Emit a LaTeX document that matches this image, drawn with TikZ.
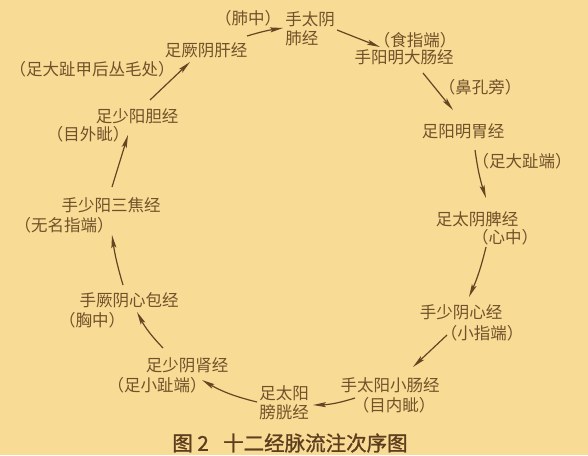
\documentclass[tikz,border=0pt]{standalone}
\usepackage{fontspec}
\setmainfont{Noto Sans CJK SC}
\newfontfamily\capfont[FakeBold=1.2]{Noto Sans CJK SC}
\usetikzlibrary{arrows.meta,calc}
\definecolor{bgc}{RGB}{248,219,149}
\definecolor{txt}{RGB}{112,82,42}
\definecolor{arr}{RGB}{100,70,35}
\definecolor{cap}{RGB}{92,62,30}
\tikzset{
  lbl/.style={inner sep=0pt, text=txt, font=\fontsize{16.5}{19}\selectfont},
  lbl2/.style={lbl, align=left},
  flow/.style={draw=arr, line width=1.2pt, -{Stealth[length=13pt,width=5pt,inset=2.5pt]}},
  captext/.style={inner sep=0pt, text=cap, font=\capfont\fontsize{20.5}{24}\selectfont}
}
\begin{document}
\begin{tikzpicture}[x=1pt,y=1pt]
\fill[bgc] (0,0) rectangle (588,-455);
\useasboundingbox (0,0) rectangle (588,-455);
% nodes
\node[lbl] (lungpt) at (248,-18) {（肺中）};
\node[lbl2] (lung) at (310,-28.5) {手太阴\\肺经};
\node[lbl] (lipt) at (415,-40) {（食指端）};
\node[lbl] (li) at (404,-57) {手阳明大肠经};
\node[lbl] (stpt) at (480,-87) {（鼻孔旁）};
\node[lbl] (st) at (463,-131) {足阳明胃经};
\node[lbl] (sppt) at (522,-161) {（足大趾端）};
\node[lbl] (sp) at (477,-219) {足太阴脾经};
\node[lbl] (htpt) at (505,-237) {（心中）};
\node[lbl] (ht) at (461,-312) {手少阴心经};
\node[lbl] (sipt) at (482,-333) {（小指端）};
\node[lbl] (si) at (390,-385) {手太阳小肠经};
\node[lbl] (blpt) at (394,-405) {（目内眦）};
\node[lbl2] (bl) at (284,-402.5) {足太阳\\膀胱经};
\node[lbl] (kipt) at (157,-385) {（足小趾端）};
\node[lbl] (ki) at (187,-365) {足少阴肾经};
\node[lbl] (pcpt) at (92,-320) {（胸中）};
\node[lbl] (pc) at (129,-300) {手厥阴心包经};
\node[lbl] (tept) at (64,-225) {（无名指端）};
\node[lbl] (te) at (111,-205) {手少阳三焦经};
\node[lbl] (gbpt) at (88,-134) {（目外眦）};
\node[lbl] (gb) at (137,-116) {足少阳胆经};
\node[lbl] (lrpt) at (92,-69) {（足大趾甲后丛毛处）};
\node[lbl] (lr) at (206,-50) {足厥阴肝经};
\node[captext] (caption) at (290,-443) {图~2\hspace{0.7em}十二经脉流注次序图};
% connectors
\draw[flow] ($(lr)+(41,14)$) to[bend left=4] ($(lung)+(-27,0.5)$);
\draw[flow] ($(lung)+(27,-1.5)$) -- ($(li)+(-24,10)$);
\draw[flow] ($(li)+(19,-16)$) -- ($(st)+(-10,21)$);
\draw[flow] ($(st)+(12,-19)$) to[bend right=5] ($(sp)+(9,21)$);
\draw[flow] ($(sp)+(9,-28)$) to[bend left=5] ($(ht)+(8,15)$);
\draw[flow] ($(ht)+(-14,-23)$) -- ($(si)+(23,18)$);
\draw[flow] ($(si)+(-35,-13)$) to[bend left=8] ($(bl)+(29,-2.5)$);
\draw[flow] ($(bl)+(-27,0.5)$) to[bend left=8] ($(ki)+(15,-15)$);
\draw[flow] ($(ki)+(-24,17)$) to[bend left=8] ($(pc)+(8,-12)$);
\draw[flow] ($(pc)+(-6,15)$) to[bend left=4] ($(te)+(1,-30)$);
\draw[flow] ($(te)+(1,18)$) -- ($(gb)+(-9,-19)$);
\draw[flow] ($(gb)+(13,16)$) -- ($(lr)+(-16,-12)$);
\end{tikzpicture}
\end{document}
